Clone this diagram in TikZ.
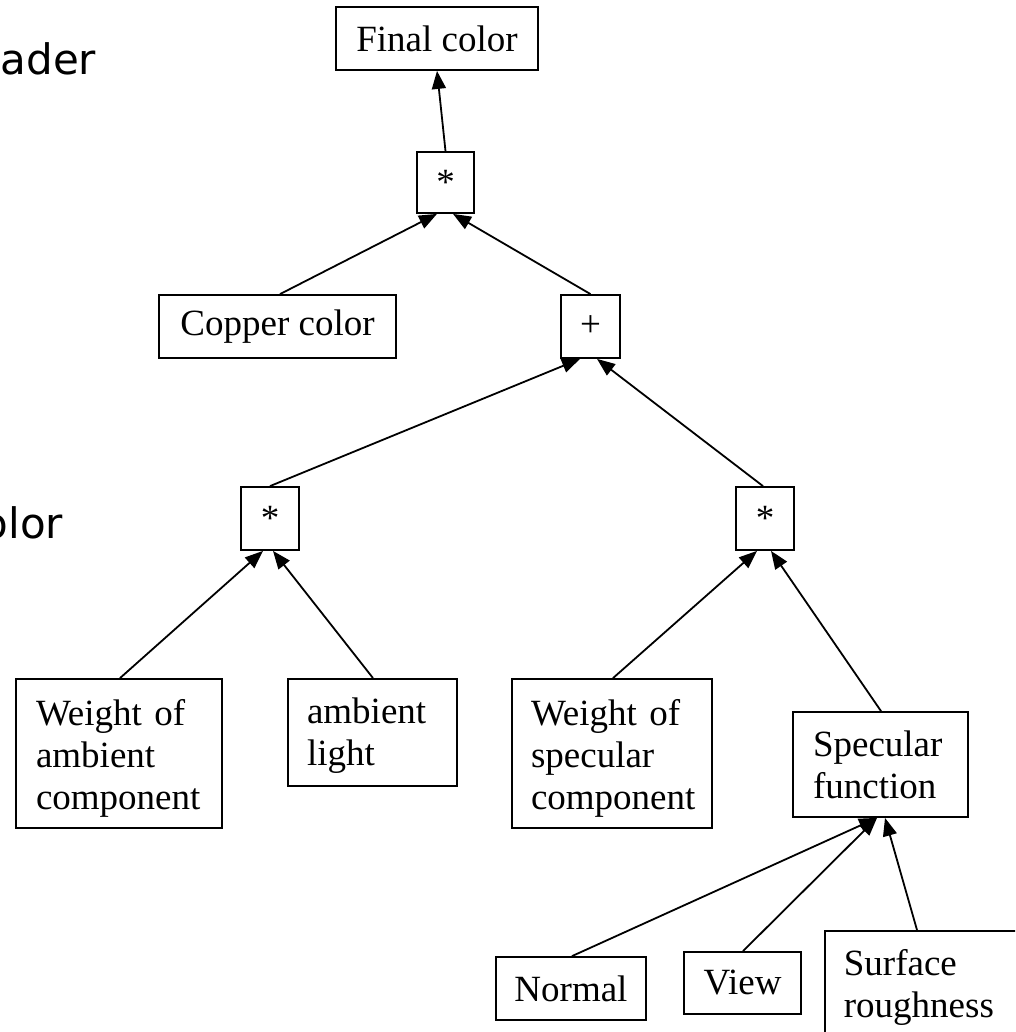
\documentclass[tikz,border=0pt]{standalone}
\usepackage{fontspec}
\setmainfont{Liberation Serif}
\newfontfamily\labelsans{DejaVu Sans}
\usetikzlibrary{arrows.meta}
% invisible strut that pushes a box's first line down
\newcommand\firstline[1]{\rule{0pt}{#1}}
\begin{document}
\begin{tikzpicture}[x=1pt,y=-1pt,
  box/.style={draw, line width=1.8pt, inner sep=0pt,
    font=\fontsize{37}{42}\selectfont},
  multibox/.style={box, align=left},
  arr/.style={line width=1.8pt, -{Triangle[length=18pt,width=14pt]}},
  side/.style={font=\labelsans\fontsize{42}{48}\selectfont, inner sep=0pt, anchor=base west}]
\useasboundingbox (0,0) rectangle (1015,1032);
\clip (0,0) rectangle (1015,1032);

% side captions, partly outside the frame
\node[side] (capa) at (0.5,75) {ader};
\node[side] (capb) at (-17.5,538) {olor};

% operator tree
\node[box, minimum width=202pt, minimum height=63pt] (fc) at (437,38.5) {Final color};
\node[box, minimum width=57pt, minimum height=61pt] (m1) at (445.5,182.5) {*};
\node[box, minimum width=237pt, minimum height=63pt] (cc) at (277.5,326.5) {Copper color};
\node[box, minimum width=59pt, minimum height=63pt] (plus) at (590.5,326.5) {+};
\node[box, minimum width=58pt, minimum height=63pt] (ls) at (270,518.5) {*};
\node[box, minimum width=58pt, minimum height=63pt] (rs) at (765,518.5) {*};

\node[multibox, minimum width=206pt, minimum height=149pt, text width=166pt] (wa) at (119,753.5)
  {\firstline{35pt}Weight of\\ambient\\component};
\node[multibox, minimum width=169pt, minimum height=107pt, text width=131pt] (al) at (372.5,732.5)
  {\firstline{31pt}ambient\\light};
\node[multibox, minimum width=200pt, minimum height=149pt, text width=162pt] (ws) at (612,753.5)
  {\firstline{35pt}Weight of\\specular\\component};
\node[multibox, minimum width=175pt, minimum height=105pt, text width=135pt] (sf) at (880.5,764.5)
  {Specular\\function};

\node[box, minimum width=150pt, minimum height=63pt] (nm) at (571,988.5) {Normal};
\node[box, minimum width=117pt, minimum height=62pt] (vw) at (742.5,983) {View};
\node[multibox, minimum width=210pt, minimum height=104pt, text width=172pt, anchor=north west] (sr) at (824,930)
  {\firstline{35pt}Surface\\roughness};

% connectors, child to parent
\draw[arr] (m1.north) -- (fc.south);
\draw[arr] ([xshift=2.5pt]cc.north) -- ([xshift=-8.5pt]m1.south);
\draw[arr] (plus.north) -- ([xshift=7.5pt]m1.south);
\draw[arr] (ls.north) -- ([xshift=-10.5pt]plus.south);
\draw[arr] ([xshift=-2pt]rs.north) -- ([xshift=6.5pt]plus.south);
\draw[arr] ([xshift=1pt]wa.north) -- ([xshift=-7pt]ls.south);
\draw[arr] ([xshift=0.5pt]al.north) -- ([xshift=3pt]ls.south);
\draw[arr] ([xshift=1pt]ws.north) -- ([xshift=-8pt]rs.south);
\draw[arr] ([xshift=0.5pt]sf.north) -- ([xshift=6pt]rs.south);
\draw[arr] ([xshift=1pt]nm.north) -- ([xshift=-3.5pt]sf.south);
\draw[arr] ([xshift=0.5pt]vw.north) -- ([xshift=-3.5pt]sf.south);
\draw[arr] ([xshift=93pt]sr.north west) -- ([xshift=4.5pt]sf.south);
\end{tikzpicture}
\end{document}
